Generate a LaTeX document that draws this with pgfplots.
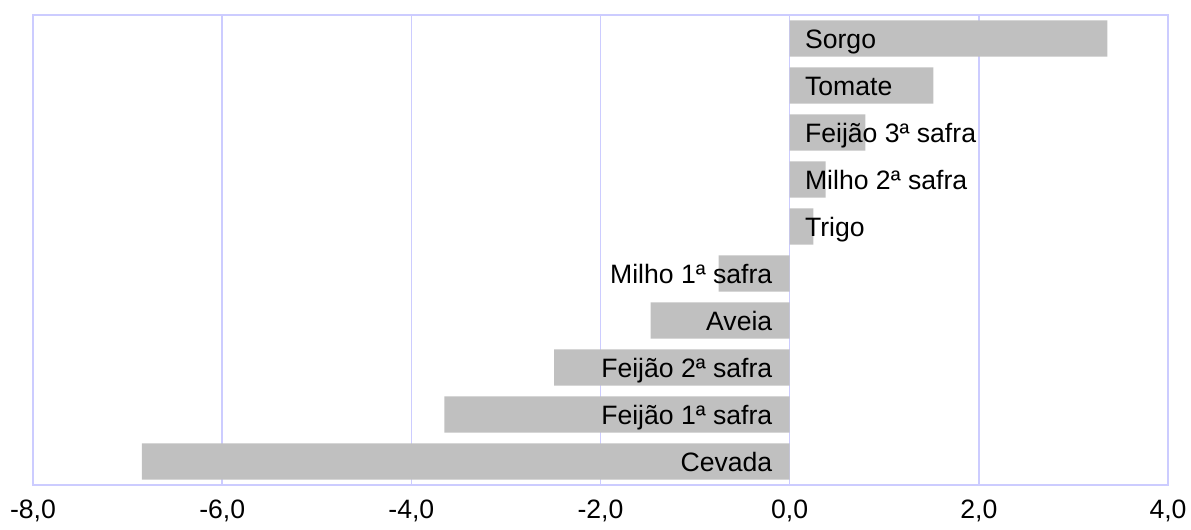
\documentclass[border=0pt]{standalone}
\usepackage{pgfplots}
\usepackage{pgfplotstable}
\pgfplotsset{compat=1.18}
\usepackage{fontspec}
\setmainfont{Liberation Sans}
\definecolor{framec}{RGB}{204,204,255}
\definecolor{barc}{RGB}{192,192,192}

% y = position from the bottom
\pgfplotstableread[col sep=comma]{
y,value,label
0,-6.85,Cevada
1,-3.65,Feijão 1ª safra
2,-2.49,Feijão 2ª safra
3,-1.47,Aveia
4,-0.75,Milho 1ª safra
5,0.25,Trigo
6,0.38,Milho 2ª safra
7,0.80,Feijão 3ª safra
8,1.52,Tomate
9,3.36,Sorgo
}\crops

\pgfplotstableread[col sep=comma]{
y,zero,label
0,0,Cevada
1,0,Feijão 1ª safra
2,0,Feijão 2ª safra
3,0,Aveia
4,0,Milho 1ª safra
}\neglabels

\pgfplotstableread[col sep=comma]{
y,zero,label
5,0,Trigo
6,0,Milho 2ª safra
7,0,Feijão 3ª safra
8,0,Tomate
9,0,Sorgo
}\poslabels

\begin{document}
\begin{tikzpicture}
\begin{axis}[
    scale only axis,
    width=567.5pt, height=235pt,
    xmin=-8, xmax=4, ymin=-0.5, ymax=9.5,
    xtick={-8,-6,-4,-2,0,2,4},
    ytick=\empty,
    xmajorgrids,
    grid style={framec, line width=0.75pt},
    axis line style={framec, line width=1pt},
    major tick length=0pt,
    tick label style={font=\fontsize{13.3}{16}\selectfont},
    xticklabel style={yshift=-4pt, /pgf/number format/.cd, fixed, fixed zerofill, precision=1, use comma, assume math mode=true},
    clip=false,
]
\addplot[xbar, bar width=0.77, fill=barc, draw=none] table[x=value, y=y] {\crops};

\addplot[draw=none, mark=none, nodes near coords, point meta=explicit symbolic,
    every node near coord/.append style={anchor=base east, inner sep=0pt, xshift=-8.5pt, yshift=-4.8pt, font=\fontsize{13.3}{16}\selectfont, text=black}]
    table[x=zero, y=y, meta=label] {\neglabels};

\addplot[draw=none, mark=none, nodes near coords, point meta=explicit symbolic,
    every node near coord/.append style={anchor=base west, inner sep=0pt, xshift=7.5pt, yshift=-4.8pt, font=\fontsize{13.3}{16}\selectfont, text=black}]
    table[x=zero, y=y, meta=label] {\poslabels};
\end{axis}
\pgfresetboundingbox
\path[use as bounding box] ([xshift=-16.5pt,yshift=-22pt]current axis.south west) rectangle ([xshift=11.5pt,yshift=7.5pt]current axis.north east);
\end{tikzpicture}
\end{document}
